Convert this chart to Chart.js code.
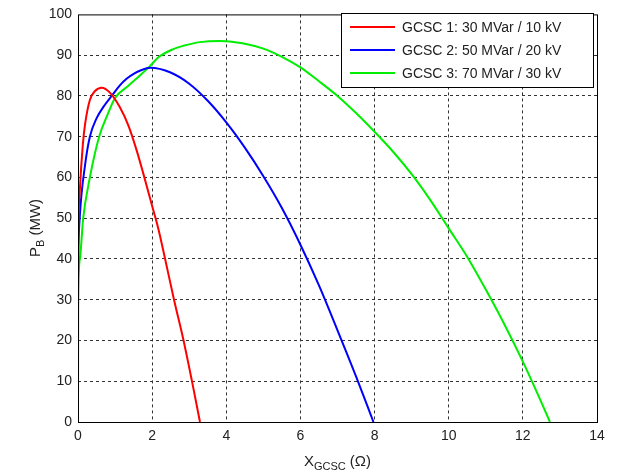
<!DOCTYPE html>
<html lang="en">
<head>
  <meta charset="UTF-8" />
  <title>GCSC P_B vs X</title>
  <script src="https://cdn.jsdelivr.net/npm/chart.js"></script>
  <style>
    body {
      margin: 0;
      background: #fff;
    }
    #wrap {
      width: 617px;
      height: 475px;
    }
  </style>
</head>
<body>
  <div id="wrap"><canvas id="pbChart" width="617" height="475"></canvas></div>

  <script>
    // values
    const seriesLabels = ["GCSC 1: 30 MVar / 10 kV", "GCSC 2: 50 MVar / 20 kV", "GCSC 3: 70 MVar / 30 kV"];
    const seriesColors = ["#ff0000", "#0000ff", "#00ee00"];

    const gcsc1X = [0, 0.01, 0.05, 0.13, 0.19, 0.32, 0.46, 0.64, 0.86, 1.13, 1.36, 1.58, 1.76, 2.0, 2.17, 2.35, 2.59, 2.84, 3.07, 3.29];
    const gcsc1P = [40, 48, 57, 68, 73, 79, 81.2, 82, 80.8, 77.2, 72.7, 66.7, 61, 53, 47.3, 40, 30, 20.3, 10.2, 0];

    const gcsc2X = [0, 0.01, 0.05, 0.19, 0.32, 0.5, 0.7, 0.91, 1.13, 1.31, 1.5, 1.7, 1.95, 2.48, 3.0, 3.5, 4.0, 4.5, 5.0, 5.5, 6.0, 6.5, 7.0, 7.5, 7.97];
    const gcsc2P = [35, 42, 50.6, 63, 70, 74.5, 77.5, 80, 82.6, 84.2, 85.4, 86.3, 86.9, 85.8, 83, 78.8, 73.5, 67.3, 60.3, 52.5, 43.5, 33.5, 22.5, 11.2, 0];

    const gcsc3X = [0, 0.005, 0.05, 0.14, 0.32, 0.57, 0.8, 1.0, 1.36, 1.67, 1.94, 2.17, 2.57, 2.84, 3.29, 3.8, 4.0, 4.5, 5.0, 5.5, 6.0, 6.5, 7.0, 7.5, 8.0, 8.5, 9.0, 9.5, 10.0, 10.5, 11.0, 11.5, 12.0, 12.5, 12.73];
    const gcsc3P = [0, 28, 40, 50, 60, 70, 75.5, 79.5, 82.5, 85, 87.3, 89.5, 91.5, 92.3, 93.2, 93.5, 93.4, 92.8, 91.6, 89.6, 87, 83.6, 80, 75.8, 71.2, 66.3, 60.8, 54.5, 47.5, 40.5, 32.5, 24, 14.8, 4.8, 0];

    const xTicks = [0, 2, 4, 6, 8, 10, 12, 14];
    const yTicks = [0, 10, 20, 30, 40, 50, 60, 70, 80, 90, 100];

    function toPoints(xs, ys) {
      return xs.map((x, i) => ({ x: x, y: ys[i] }));
    }

    const seriesData = [toPoints(gcsc1X, gcsc1P), toPoints(gcsc2X, gcsc2P), toPoints(gcsc3X, gcsc3P)];

    // box, axis titles with subscripts and matlab style legend
    const matlabDecor = {
      id: "matlabDecor",
      afterDraw(chart) {
        const ctx = chart.ctx;
        const a = chart.chartArea;
        ctx.save();
        ctx.strokeStyle = "#000";
        ctx.lineWidth = 1;
        ctx.strokeRect(a.left + 0.5, a.top + 0.5, a.right - a.left, a.bottom - a.top);

        ctx.fillStyle = "#222";
        ctx.textBaseline = "alphabetic";
        // x title
        const big = "15px 'Liberation Sans', Arial, sans-serif";
        const small = "11px 'Liberation Sans', Arial, sans-serif";
        ctx.font = big;
        const wX = ctx.measureText("X").width;
        const wP = ctx.measureText(" (\u03A9)").width;
        ctx.font = small;
        const wS = ctx.measureText("GCSC").width;
        let x0 = (a.left + a.right) / 2 - (wX + wS + wP) / 2;
        const by = 466;
        ctx.font = big;
        ctx.fillText("X", x0, by);
        ctx.font = small;
        ctx.fillText("GCSC", x0 + wX, by + 4);
        ctx.font = big;
        ctx.fillText(" (\u03A9)", x0 + wX + wS, by);

        // y title
        ctx.save();
        ctx.translate(40, 228);
        ctx.rotate(-Math.PI / 2);
        ctx.font = big;
        const wPB = ctx.measureText("P").width;
        const wMW = ctx.measureText(" (MW)").width;
        ctx.font = small;
        const wB = ctx.measureText("B").width;
        let y0 = -(wPB + wB + wMW) / 2;
        ctx.font = big;
        ctx.fillText("P", y0, 0);
        ctx.font = small;
        ctx.fillText("B", y0 + wPB, 4);
        ctx.font = big;
        ctx.fillText(" (MW)", y0 + wPB + wB, 0);
        ctx.restore();

        // legend
        const lx = 341, ly = 13, lw = 252, lh = 74;
        ctx.fillStyle = "#fff";
        ctx.fillRect(lx, ly, lw, lh);
        ctx.strokeStyle = "#000";
        ctx.strokeRect(lx + 0.5, ly + 0.5, lw, lh);
        ctx.font = "14px 'Liberation Sans', Arial, sans-serif";
        ctx.textBaseline = "middle";
        chart.data.datasets.forEach((ds, i) => {
          const ry = ly + 14 + i * 23;
          ctx.strokeStyle = ds.borderColor;
          ctx.lineWidth = 2;
          ctx.beginPath();
          ctx.moveTo(lx + 9, ry);
          ctx.lineTo(lx + 54, ry);
          ctx.stroke();
          ctx.fillStyle = "#222";
          ctx.fillText(ds.label, lx + 61, ry + 1);
        });
        ctx.restore();
      }
    };

    const ctx = document.getElementById("pbChart").getContext("2d");
    new Chart(ctx, {
      type: "line",
      data: {
        datasets: seriesData.map((pts, i) => ({
          label: seriesLabels[i],
          data: pts,
          borderColor: seriesColors[i],
          backgroundColor: seriesColors[i],
          borderWidth: 2,
          pointRadius: 0,
          cubicInterpolationMode: "monotone",
          fill: false
        }))
      },
      options: {
        responsive: false,
        animation: false,
        layout: { padding: { top: 9, right: 20, left: 0, bottom: 0 } },
        plugins: {
          legend: { display: false },
          tooltip: { enabled: false }
        },
        scales: {
          x: {
            type: "linear",
            min: 0,
            max: 14,
            afterBuildTicks: s => { s.ticks = xTicks.map(v => ({ value: v })); },
            afterFit: s => { s.height = 53; },
            grid: {
              color: c => (c.tick.value === 0 || c.tick.value === 14) ? "rgba(0,0,0,0)" : "#333",
              lineWidth: 1,
              drawTicks: false
            },
            border: { display: false, dash: [3, 3] },
            ticks: {
              color: "#222",
              padding: 6,
              font: { family: "'Liberation Sans', Arial, sans-serif", size: 14 },
              maxRotation: 0
            }
          },
          y: {
            type: "linear",
            min: 0,
            max: 100,
            afterBuildTicks: s => { s.ticks = yTicks.map(v => ({ value: v })); },
            afterFit: s => { s.width = 78; },
            grid: {
              color: c => (c.tick.value === 0 || c.tick.value === 100) ? "rgba(0,0,0,0)" : "#333",
              lineWidth: 1,
              drawTicks: false
            },
            border: { display: false, dash: [3, 3] },
            ticks: {
              color: "#222",
              padding: 6,
              font: { family: "'Liberation Sans', Arial, sans-serif", size: 14 }
            }
          }
        }
      },
      plugins: [matlabDecor]
    });
  </script>
</body>
</html>
